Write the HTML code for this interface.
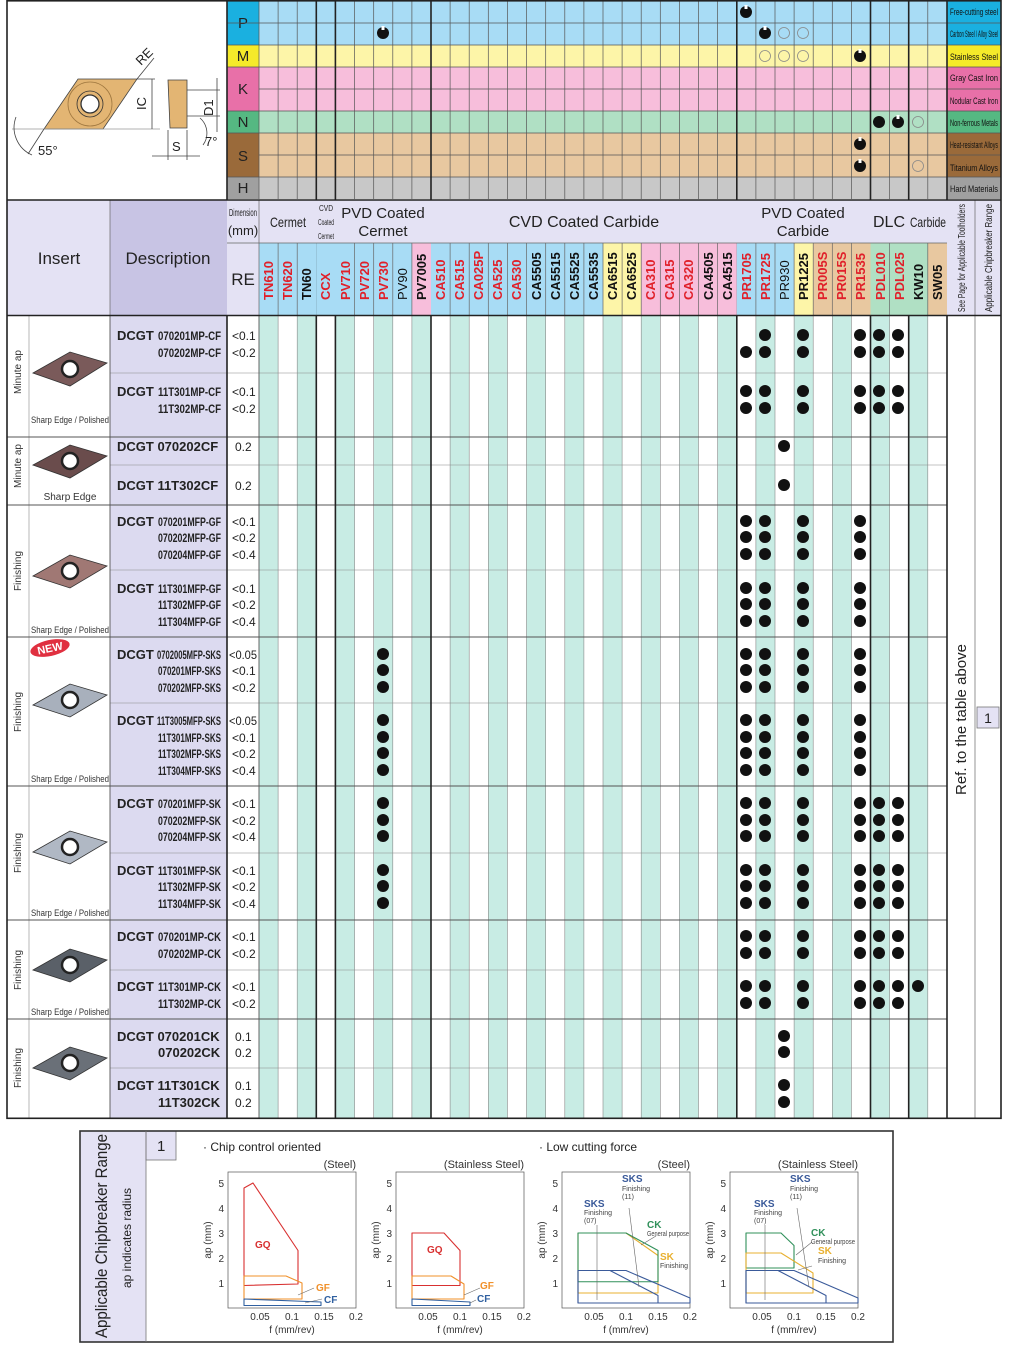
<!DOCTYPE html>
<html><head><meta charset="utf-8"><style>
html,body{margin:0;padding:0;background:#fff;}
svg{display:block;font-family:"Liberation Sans",sans-serif;}
</style></head><body>
<svg width="1018" height="1358" viewBox="0 0 1018 1358" xmlns="http://www.w3.org/2000/svg">
<rect width="1018" height="1358" fill="#fff"/>
<!-- TOP MATERIAL ROWS -->
<rect x="259" y="1" width="688" height="44" fill="#a8dcf5"/>
<rect x="259" y="45" width="688" height="22" fill="#fdf5a8"/>
<rect x="259" y="67" width="688" height="44" fill="#f7bedb"/>
<rect x="259" y="111" width="688" height="22" fill="#b0e0c4"/>
<rect x="259" y="133" width="688" height="44" fill="#e8c8a0"/>
<rect x="259" y="177" width="688" height="22" fill="#c8c8c8"/>
<rect x="227" y="1" width="32" height="44" fill="#1ab0e0"/>
<rect x="227" y="45" width="32" height="22" fill="#f5ea2a"/>
<rect x="227" y="67" width="32" height="44" fill="#e870a8"/>
<rect x="227" y="111" width="32" height="22" fill="#55b882"/>
<rect x="227" y="133" width="32" height="44" fill="#9a6a3a"/>
<rect x="227" y="177" width="32" height="22" fill="#a0a0a0"/>
<g font-size="15" fill="#222" text-anchor="middle">
<text x="243" y="28">P</text><text x="243" y="61">M</text><text x="243" y="94">K</text><text x="243" y="127">N</text><text x="243" y="161">S</text><text x="243" y="193">H</text></g>
<rect x="947" y="1" width="54" height="44" fill="#1ab0e0"/>
<rect x="947" y="45" width="54" height="22" fill="#f5ea2a"/>
<rect x="947" y="67" width="54" height="44" fill="#e870a8"/>
<rect x="947" y="111" width="54" height="22" fill="#55b882"/>
<rect x="947" y="133" width="54" height="44" fill="#9a6a3a"/>
<rect x="947" y="177" width="54" height="22" fill="#a0a0a0"/>
<g font-size="9" fill="#111">
<text x="950" y="15" textLength="48" lengthAdjust="spacingAndGlyphs">Free-cutting steel</text>
<text x="950" y="37" textLength="48" lengthAdjust="spacingAndGlyphs">Carbon Steel / Alloy Steel</text>
<text x="950" y="60" textLength="48" lengthAdjust="spacingAndGlyphs">Stainless Steel</text>
<text x="950" y="81" textLength="48" lengthAdjust="spacingAndGlyphs">Gray Cast Iron</text>
<text x="950" y="104" textLength="48" lengthAdjust="spacingAndGlyphs">Nodular Cast Iron</text>
<text x="950" y="126" textLength="48" lengthAdjust="spacingAndGlyphs">Non-ferrous Metals</text>
<text x="950" y="148" textLength="48" lengthAdjust="spacingAndGlyphs">Heat-resistant Alloys</text>
<text x="950" y="171" textLength="48" lengthAdjust="spacingAndGlyphs">Titanium Alloys</text>
<text x="950" y="192" textLength="48" lengthAdjust="spacingAndGlyphs">Hard Materials</text>
</g>
<g stroke="#555" stroke-width="0.7">
<line x1="227" y1="23" x2="1001" y2="23"/><line x1="259" y1="89" x2="1001" y2="89"/><line x1="259" y1="155" x2="1001" y2="155"/>
<line x1="227" y1="45" x2="1001" y2="45"/><line x1="227" y1="67" x2="1001" y2="67"/><line x1="227" y1="111" x2="1001" y2="111"/><line x1="227" y1="133" x2="1001" y2="133"/><line x1="227" y1="177" x2="1001" y2="177"/>
<line x1="259" y1="1" x2="259" y2="199"/><line x1="278.1" y1="1" x2="278.1" y2="199"/><line x1="297.2" y1="1" x2="297.2" y2="199"/><line x1="354.6" y1="1" x2="354.6" y2="199"/><line x1="373.7" y1="1" x2="373.7" y2="199"/><line x1="392.8" y1="1" x2="392.8" y2="199"/><line x1="411.9" y1="1" x2="411.9" y2="199"/><line x1="450.1" y1="1" x2="450.1" y2="199"/><line x1="469.2" y1="1" x2="469.2" y2="199"/><line x1="488.3" y1="1" x2="488.3" y2="199"/><line x1="507.4" y1="1" x2="507.4" y2="199"/><line x1="526.5" y1="1" x2="526.5" y2="199"/><line x1="545.7" y1="1" x2="545.7" y2="199"/><line x1="564.8" y1="1" x2="564.8" y2="199"/><line x1="583.9" y1="1" x2="583.9" y2="199"/><line x1="603" y1="1" x2="603" y2="199"/><line x1="622.1" y1="1" x2="622.1" y2="199"/><line x1="641.2" y1="1" x2="641.2" y2="199"/><line x1="660.3" y1="1" x2="660.3" y2="199"/><line x1="679.4" y1="1" x2="679.4" y2="199"/><line x1="698.5" y1="1" x2="698.5" y2="199"/><line x1="717.6" y1="1" x2="717.6" y2="199"/><line x1="755.9" y1="1" x2="755.9" y2="199"/><line x1="775" y1="1" x2="775" y2="199"/><line x1="794.1" y1="1" x2="794.1" y2="199"/><line x1="813.2" y1="1" x2="813.2" y2="199"/><line x1="832.3" y1="1" x2="832.3" y2="199"/><line x1="851.4" y1="1" x2="851.4" y2="199"/><line x1="889.6" y1="1" x2="889.6" y2="199"/><line x1="927.8" y1="1" x2="927.8" y2="199"/>
</g>
<g stroke="#222" stroke-width="1.6">
<line x1="316.3" y1="1" x2="316.3" y2="315"/><line x1="335.4" y1="1" x2="335.4" y2="315"/><line x1="431" y1="1" x2="431" y2="315"/><line x1="736.8" y1="1" x2="736.8" y2="315"/><line x1="870.5" y1="1" x2="870.5" y2="315"/><line x1="908.7" y1="1" x2="908.7" y2="315"/><line x1="947" y1="1" x2="947" y2="315"/>
<line x1="227" y1="0" x2="227" y2="315"/>
</g>
<!-- material dots -->
<g fill="#111">
<circle cx="746" cy="12" r="6"/><circle cx="383" cy="33" r="6"/><circle cx="765" cy="33" r="6"/><circle cx="860" cy="56" r="6"/><circle cx="879" cy="122" r="6"/><circle cx="898" cy="122" r="6"/><circle cx="860" cy="144" r="6"/><circle cx="860" cy="166" r="6"/>
</g>
<g fill="#fff"><rect x="744.5" y="5" width="3" height="4"/><rect x="381.5" y="26" width="3" height="4"/><rect x="763.5" y="26" width="3" height="4"/><rect x="858.5" y="49" width="3" height="4"/><rect x="896.5" y="115" width="3" height="4"/><rect x="858.5" y="137" width="3" height="4"/><rect x="858.5" y="159" width="3" height="4"/></g>
<g fill="none" stroke="#888" stroke-width="0.8">
<circle cx="784" cy="33" r="5.5"/><circle cx="803" cy="33" r="5.5"/><circle cx="765" cy="56" r="5.5"/><circle cx="784" cy="56" r="5.5"/><circle cx="803" cy="56" r="5.5"/><circle cx="918" cy="122" r="5.5"/><circle cx="918" cy="166" r="5.5"/>
</g>
<!-- Diagram -->
<g stroke="#444" stroke-width="0.8" fill="none">
<polygon points="44,129 78,79 137,79 103,129" fill="#e3b573"/>
<circle cx="90" cy="104" r="22" stroke="#a07840"/>
<circle cx="90" cy="104" r="13" fill="#e3b573" stroke="#333"/>
<circle cx="90" cy="104" r="9" fill="#fff" stroke="#333" stroke-width="1.3"/>
<line x1="12" y1="129" x2="160" y2="129" stroke="#999"/>
<line x1="44" y1="129" x2="28" y2="154"/>
<path d="M16,117 A30,30 0 0 0 32,155"/>
<line x1="137" y1="79" x2="155" y2="79"/><line x1="152" y1="79" x2="152" y2="129"/>
<line x1="137" y1="79" x2="154" y2="58"/>
<polygon points="168,80 187,80 187,128 170,128" fill="#e3b573"/>
<line x1="187" y1="90" x2="220" y2="90"/><line x1="187" y1="116" x2="220" y2="116"/><line x1="217" y1="78" x2="217" y2="132"/>
<line x1="168" y1="130" x2="168" y2="160"/><line x1="187" y1="130" x2="187" y2="160"/><line x1="152" y1="156" x2="200" y2="156"/>
<path d="M200,118 A20,20 0 0 1 203,145"/>
</g>
<g font-size="13" fill="#222">
<text x="38" y="155">55°</text>
<text x="146" y="110" transform="rotate(-90 146 110)">IC</text>
<text x="141" y="66" transform="rotate(-45 141 66)">RE</text>
<text x="213" y="116" transform="rotate(-90 213 116)">D1</text>
<text x="172" y="151">S</text>
<text x="205" y="146">7°</text>
</g>
<!-- HEADER -->
<rect x="7" y="200" width="103" height="115" fill="#e4e2f4"/>
<rect x="110" y="200" width="117" height="115" fill="#c8c4e4"/>
<rect x="227" y="200" width="774" height="43" fill="#e4e2f4"/>
<rect x="227" y="243" width="32" height="72" fill="#e4e2f4"/>
<rect x="947" y="243" width="54" height="72" fill="#e4e2f4"/>
<g>
<rect x="259" y="243" width="57.3" height="72" fill="#a8dcf5"/>
<rect x="316.3" y="243" width="95.6" height="72" fill="#a8dcf5"/>
<rect x="411.9" y="243" width="19.1" height="72" fill="#f7bedb"/>
<rect x="431" y="243" width="172" height="72" fill="#a8dcf5"/>
<rect x="603" y="243" width="38.2" height="72" fill="#fdf5a8"/>
<rect x="641.2" y="243" width="95.6" height="72" fill="#f7bedb"/>
<rect x="736.8" y="243" width="57.3" height="72" fill="#a8dcf5"/>
<rect x="794.1" y="243" width="19.1" height="72" fill="#fdf5a8"/>
<rect x="813.2" y="243" width="57.3" height="72" fill="#e8c8a0"/>
<rect x="870.5" y="243" width="57.3" height="72" fill="#b0e0c4"/>
<rect x="927.8" y="243" width="19.2" height="72" fill="#e8c8a0"/>
</g>
<g stroke="#666" stroke-width="0.7">
<line x1="227" y1="243" x2="947" y2="243"/>
<line x1="259" y1="200" x2="259" y2="315"/><line x1="110" y1="200" x2="110" y2="315"/><line x1="975" y1="200" x2="975" y2="1118"/>
<line x1="278.1" y1="243" x2="278.1" y2="315"/><line x1="297.2" y1="243" x2="297.2" y2="315"/><line x1="354.6" y1="243" x2="354.6" y2="315"/><line x1="373.7" y1="243" x2="373.7" y2="315"/><line x1="392.8" y1="243" x2="392.8" y2="315"/><line x1="411.9" y1="243" x2="411.9" y2="315"/><line x1="450.1" y1="243" x2="450.1" y2="315"/><line x1="469.2" y1="243" x2="469.2" y2="315"/><line x1="488.3" y1="243" x2="488.3" y2="315"/><line x1="507.4" y1="243" x2="507.4" y2="315"/><line x1="526.5" y1="243" x2="526.5" y2="315"/><line x1="545.7" y1="243" x2="545.7" y2="315"/><line x1="564.8" y1="243" x2="564.8" y2="315"/><line x1="583.9" y1="243" x2="583.9" y2="315"/><line x1="603" y1="243" x2="603" y2="315"/><line x1="622.1" y1="243" x2="622.1" y2="315"/><line x1="641.2" y1="243" x2="641.2" y2="315"/><line x1="660.3" y1="243" x2="660.3" y2="315"/><line x1="679.4" y1="243" x2="679.4" y2="315"/><line x1="698.5" y1="243" x2="698.5" y2="315"/><line x1="717.6" y1="243" x2="717.6" y2="315"/><line x1="755.9" y1="243" x2="755.9" y2="315"/><line x1="775" y1="243" x2="775" y2="315"/><line x1="794.1" y1="243" x2="794.1" y2="315"/><line x1="813.2" y1="243" x2="813.2" y2="315"/><line x1="832.3" y1="243" x2="832.3" y2="315"/><line x1="851.4" y1="243" x2="851.4" y2="315"/><line x1="889.6" y1="243" x2="889.6" y2="315"/><line x1="927.8" y1="243" x2="927.8" y2="315"/>
</g>
<g fill="#222" text-anchor="middle">
<text x="59" y="264" font-size="17">Insert</text>
<text x="168" y="264" font-size="17">Description</text>
<text x="243" y="285" font-size="17">RE</text>
<text x="243" y="216" font-size="10" textLength="28" lengthAdjust="spacingAndGlyphs">Dimension</text>
<text x="243" y="235" font-size="13">(mm)</text>
<text x="288" y="227" font-size="14" textLength="36" lengthAdjust="spacingAndGlyphs">Cermet</text>
<text x="326" y="211" font-size="8" textLength="14" lengthAdjust="spacingAndGlyphs">CVD</text>
<text x="326" y="225" font-size="8" textLength="16" lengthAdjust="spacingAndGlyphs">Coated</text>
<text x="326" y="239" font-size="8" textLength="16" lengthAdjust="spacingAndGlyphs">Cermet</text>
<text x="383" y="218" font-size="15">PVD Coated</text>
<text x="383" y="236" font-size="15">Cermet</text>
<text x="584" y="227" font-size="16">CVD Coated Carbide</text>
<text x="803" y="218" font-size="15">PVD Coated</text>
<text x="803" y="236" font-size="15">Carbide</text>
<text x="889" y="227" font-size="16">DLC</text>
<text x="928" y="227" font-size="14" textLength="36" lengthAdjust="spacingAndGlyphs">Carbide</text>
</g>
<g font-size="10" fill="#222">
<text transform="translate(965,312) rotate(-90)" textLength="108" lengthAdjust="spacingAndGlyphs">See Page for Applicable Toolholders</text>
<text transform="translate(992,312) rotate(-90)" textLength="108" lengthAdjust="spacingAndGlyphs">Applicable Chipbreaker Range</text>
</g>
<g font-size="13" font-weight="bold" fill="#e0202a">
<text transform="translate(273,300) rotate(-90)">TN610</text>
<text transform="translate(292,300) rotate(-90)">TN620</text>
<text transform="translate(311,300) rotate(-90)" fill="#111">TN60</text>
<text transform="translate(330,300) rotate(-90)">CCX</text>
<text transform="translate(350,300) rotate(-90)">PV710</text>
<text transform="translate(369,300) rotate(-90)">PV720</text>
<text transform="translate(388,300) rotate(-90)">PV730</text>
<text transform="translate(407,300) rotate(-90)" fill="#111" font-weight="normal">PV90</text>
<text transform="translate(426,300) rotate(-90)" fill="#111">PV7005</text>
<text transform="translate(445,300) rotate(-90)">CA510</text>
<text transform="translate(464,300) rotate(-90)">CA515</text>
<text transform="translate(483,300) rotate(-90)">CA025P</text>
<text transform="translate(502,300) rotate(-90)">CA525</text>
<text transform="translate(521,300) rotate(-90)">CA530</text>
<text transform="translate(541,300) rotate(-90)" fill="#111">CA5505</text>
<text transform="translate(560,300) rotate(-90)" fill="#111">CA5515</text>
<text transform="translate(579,300) rotate(-90)" fill="#111">CA5525</text>
<text transform="translate(598,300) rotate(-90)" fill="#111">CA5535</text>
<text transform="translate(617,300) rotate(-90)" fill="#111">CA6515</text>
<text transform="translate(636,300) rotate(-90)" fill="#111">CA6525</text>
<text transform="translate(655,300) rotate(-90)">CA310</text>
<text transform="translate(674,300) rotate(-90)">CA315</text>
<text transform="translate(693,300) rotate(-90)">CA320</text>
<text transform="translate(713,300) rotate(-90)" fill="#111">CA4505</text>
<text transform="translate(732,300) rotate(-90)" fill="#111">CA4515</text>
<text transform="translate(751,300) rotate(-90)">PR1705</text>
<text transform="translate(770,300) rotate(-90)">PR1725</text>
<text transform="translate(789,300) rotate(-90)" fill="#111" font-weight="normal">PR930</text>
<text transform="translate(808,300) rotate(-90)" fill="#111">PR1225</text>
<text transform="translate(827,300) rotate(-90)">PR005S</text>
<text transform="translate(846,300) rotate(-90)">PR015S</text>
<text transform="translate(865,300) rotate(-90)">PR1535</text>
<text transform="translate(885,300) rotate(-90)">PDL010</text>
<text transform="translate(904,300) rotate(-90)">PDL025</text>
<text transform="translate(923,300) rotate(-90)" fill="#111">KW10</text>
<text transform="translate(942,300) rotate(-90)" fill="#111">SW05</text>
</g>
<!-- BODY -->
<rect x="110" y="316" width="117" height="802" fill="#dcdaf0"/>
<g fill="#c8ece4">
<rect x="259" y="316" width="19.1" height="802"/><rect x="297.2" y="316" width="19.1" height="802"/><rect x="335.4" y="316" width="19.1" height="802"/><rect x="373.7" y="316" width="19.1" height="802"/><rect x="411.9" y="316" width="19.1" height="802"/><rect x="450.1" y="316" width="19.1" height="802"/><rect x="488.3" y="316" width="19.1" height="802"/><rect x="526.5" y="316" width="19.1" height="802"/><rect x="564.8" y="316" width="19.1" height="802"/><rect x="603" y="316" width="19.1" height="802"/><rect x="641.2" y="316" width="19.1" height="802"/><rect x="679.4" y="316" width="19.1" height="802"/><rect x="717.6" y="316" width="19.1" height="802"/><rect x="755.9" y="316" width="19.1" height="802"/><rect x="794.1" y="316" width="19.1" height="802"/><rect x="832.3" y="316" width="19.1" height="802"/><rect x="870.5" y="316" width="19.1" height="802"/><rect x="908.7" y="316" width="19.1" height="802"/>
</g>
<g stroke="#888" stroke-width="0.6">
<line x1="278.1" y1="316" x2="278.1" y2="1118"/><line x1="297.2" y1="316" x2="297.2" y2="1118"/><line x1="354.6" y1="316" x2="354.6" y2="1118"/><line x1="373.7" y1="316" x2="373.7" y2="1118"/><line x1="392.8" y1="316" x2="392.8" y2="1118"/><line x1="411.9" y1="316" x2="411.9" y2="1118"/><line x1="450.1" y1="316" x2="450.1" y2="1118"/><line x1="469.2" y1="316" x2="469.2" y2="1118"/><line x1="488.3" y1="316" x2="488.3" y2="1118"/><line x1="507.4" y1="316" x2="507.4" y2="1118"/><line x1="526.5" y1="316" x2="526.5" y2="1118"/><line x1="545.7" y1="316" x2="545.7" y2="1118"/><line x1="564.8" y1="316" x2="564.8" y2="1118"/><line x1="583.9" y1="316" x2="583.9" y2="1118"/><line x1="603" y1="316" x2="603" y2="1118"/><line x1="622.1" y1="316" x2="622.1" y2="1118"/><line x1="641.2" y1="316" x2="641.2" y2="1118"/><line x1="660.3" y1="316" x2="660.3" y2="1118"/><line x1="679.4" y1="316" x2="679.4" y2="1118"/><line x1="698.5" y1="316" x2="698.5" y2="1118"/><line x1="717.6" y1="316" x2="717.6" y2="1118"/><line x1="755.9" y1="316" x2="755.9" y2="1118"/><line x1="775" y1="316" x2="775" y2="1118"/><line x1="794.1" y1="316" x2="794.1" y2="1118"/><line x1="813.2" y1="316" x2="813.2" y2="1118"/><line x1="832.3" y1="316" x2="832.3" y2="1118"/><line x1="851.4" y1="316" x2="851.4" y2="1118"/><line x1="889.6" y1="316" x2="889.6" y2="1118"/><line x1="927.8" y1="316" x2="927.8" y2="1118"/>
<line x1="110" y1="373" x2="947" y2="373"/><line x1="110" y1="465" x2="947" y2="465"/><line x1="110" y1="570" x2="947" y2="570"/><line x1="110" y1="703" x2="947" y2="703"/><line x1="110" y1="853" x2="947" y2="853"/><line x1="110" y1="970" x2="947" y2="970"/><line x1="110" y1="1068" x2="947" y2="1068"/>
<line x1="29" y1="316" x2="29" y2="1118"/>
</g>
<g stroke="#555" stroke-width="0.9">
<line x1="7" y1="437" x2="947" y2="437"/><line x1="7" y1="505" x2="947" y2="505"/><line x1="7" y1="637" x2="947" y2="637"/><line x1="7" y1="786" x2="947" y2="786"/><line x1="7" y1="920" x2="947" y2="920"/><line x1="7" y1="1019" x2="947" y2="1019"/>
<line x1="110" y1="316" x2="110" y2="1118"/><line x1="259" y1="316" x2="259" y2="1118"/>
</g>
<g stroke="#222" stroke-width="1.6">
<line x1="227" y1="316" x2="227" y2="1118"/><line x1="316.3" y1="316" x2="316.3" y2="1118"/><line x1="335.4" y1="316" x2="335.4" y2="1118"/><line x1="431" y1="316" x2="431" y2="1118"/><line x1="736.8" y1="316" x2="736.8" y2="1118"/><line x1="870.5" y1="316" x2="870.5" y2="1118"/><line x1="908.7" y1="316" x2="908.7" y2="1118"/><line x1="947" y1="316" x2="947" y2="1118"/>
<line x1="7" y1="200" x2="1001" y2="200"/><line x1="7" y1="315.5" x2="1001" y2="315.5"/>
</g>
<rect x="7" y="0.8" width="994" height="1117.5" fill="none" stroke="#222" stroke-width="1.6"/>
<!-- left labels -->
<g font-size="10" fill="#333" text-anchor="middle">
<text transform="translate(21,372) rotate(-90)">Minute ap</text>
<text transform="translate(21,466) rotate(-90)">Minute ap</text>
<text transform="translate(21,571) rotate(-90)">Finishing</text>
<text transform="translate(21,712) rotate(-90)">Finishing</text>
<text transform="translate(21,853) rotate(-90)">Finishing</text>
<text transform="translate(21,970) rotate(-90)">Finishing</text>
<text transform="translate(21,1068) rotate(-90)">Finishing</text>
</g>
<g font-size="9" fill="#333" text-anchor="middle">
<text x="70" y="423" textLength="78" lengthAdjust="spacingAndGlyphs">Sharp Edge / Polished</text>
<text x="70" y="500" font-size="10">Sharp Edge</text>
<text x="70" y="633" textLength="78" lengthAdjust="spacingAndGlyphs">Sharp Edge / Polished</text>
<text x="70" y="782" textLength="78" lengthAdjust="spacingAndGlyphs">Sharp Edge / Polished</text>
<text x="70" y="916" textLength="78" lengthAdjust="spacingAndGlyphs">Sharp Edge / Polished</text>
<text x="70" y="1015" textLength="78" lengthAdjust="spacingAndGlyphs">Sharp Edge / Polished</text>
</g>
<!-- insert images -->
<g stroke="#333" stroke-width="0.8">
<polygon points="33,373 70,352 107,363 70,386" fill="#7a5a5a"/>
<polygon points="33,465 70,445 107,456 70,478" fill="#6a4c4c"/>
<polygon points="33,576 70,555 107,566 70,588" fill="#a07874"/>
<polygon points="33,705 70,684 107,695 70,717" fill="#a8b0bc"/>
<polygon points="33,852 70,831 107,842 70,864" fill="#b0b8c4"/>
<polygon points="33,970 70,949 107,960 70,982" fill="#5a6068"/>
<polygon points="33,1068 70,1047 107,1058 70,1080" fill="#6a7078"/>
</g>
<g fill="#fff" stroke="#222" stroke-width="2.5">
<circle cx="70" cy="369" r="8"/><circle cx="70" cy="461" r="8"/><circle cx="70" cy="571" r="8"/><circle cx="70" cy="700" r="8"/><circle cx="70" cy="847" r="8"/><circle cx="70" cy="965" r="8"/><circle cx="70" cy="1063" r="8"/>
</g>
<ellipse cx="50" cy="648" rx="20" ry="8" fill="#e03040" transform="rotate(-12 50 648)"/>
<text x="50" y="652" font-size="11" font-weight="bold" fill="#fff" text-anchor="middle" transform="rotate(-12 50 648)">NEW</text>
<!-- description text -->
<g font-size="13" font-weight="bold" fill="#222">
<text x="117" y="340">DCGT</text><text x="117" y="396">DCGT</text>
<text x="117" y="451">DCGT 070202CF</text><text x="117" y="490">DCGT 11T302CF</text>
<text x="117" y="526">DCGT</text><text x="117" y="593">DCGT</text>
<text x="117" y="659">DCGT</text><text x="117" y="725">DCGT</text>
<text x="117" y="808">DCGT</text><text x="117" y="875">DCGT</text>
<text x="117" y="941">DCGT</text><text x="117" y="991">DCGT</text>
<text x="117" y="1041">DCGT 070201CK</text><text x="158" y="1057">070202CK</text>
<text x="117" y="1090">DCGT 11T301CK</text><text x="158" y="1107">11T302CK</text>
</g>
<g font-size="12" font-weight="bold" fill="#222" text-anchor="end">
<text x="221" y="340" textLength="63" lengthAdjust="spacingAndGlyphs">070201MP-CF</text>
<text x="221" y="357" textLength="63" lengthAdjust="spacingAndGlyphs">070202MP-CF</text>
<text x="221" y="396" textLength="63" lengthAdjust="spacingAndGlyphs">11T301MP-CF</text>
<text x="221" y="413" textLength="63" lengthAdjust="spacingAndGlyphs">11T302MP-CF</text>
<text x="221" y="526" textLength="63" lengthAdjust="spacingAndGlyphs">070201MFP-GF</text>
<text x="221" y="542" textLength="63" lengthAdjust="spacingAndGlyphs">070202MFP-GF</text>
<text x="221" y="559" textLength="63" lengthAdjust="spacingAndGlyphs">070204MFP-GF</text>
<text x="221" y="593" textLength="63" lengthAdjust="spacingAndGlyphs">11T301MFP-GF</text>
<text x="221" y="609" textLength="63" lengthAdjust="spacingAndGlyphs">11T302MFP-GF</text>
<text x="221" y="626" textLength="63" lengthAdjust="spacingAndGlyphs">11T304MFP-GF</text>
<text x="221" y="659" textLength="64" lengthAdjust="spacingAndGlyphs">0702005MFP-SKS</text>
<text x="221" y="675" textLength="63" lengthAdjust="spacingAndGlyphs">070201MFP-SKS</text>
<text x="221" y="692" textLength="63" lengthAdjust="spacingAndGlyphs">070202MFP-SKS</text>
<text x="221" y="725" textLength="64" lengthAdjust="spacingAndGlyphs">11T3005MFP-SKS</text>
<text x="221" y="742" textLength="63" lengthAdjust="spacingAndGlyphs">11T301MFP-SKS</text>
<text x="221" y="758" textLength="63" lengthAdjust="spacingAndGlyphs">11T302MFP-SKS</text>
<text x="221" y="775" textLength="63" lengthAdjust="spacingAndGlyphs">11T304MFP-SKS</text>
<text x="221" y="808" textLength="63" lengthAdjust="spacingAndGlyphs">070201MFP-SK</text>
<text x="221" y="825" textLength="63" lengthAdjust="spacingAndGlyphs">070202MFP-SK</text>
<text x="221" y="841" textLength="63" lengthAdjust="spacingAndGlyphs">070204MFP-SK</text>
<text x="221" y="875" textLength="63" lengthAdjust="spacingAndGlyphs">11T301MFP-SK</text>
<text x="221" y="891" textLength="63" lengthAdjust="spacingAndGlyphs">11T302MFP-SK</text>
<text x="221" y="908" textLength="63" lengthAdjust="spacingAndGlyphs">11T304MFP-SK</text>
<text x="221" y="941" textLength="63" lengthAdjust="spacingAndGlyphs">070201MP-CK</text>
<text x="221" y="958" textLength="63" lengthAdjust="spacingAndGlyphs">070202MP-CK</text>
<text x="221" y="991" textLength="63" lengthAdjust="spacingAndGlyphs">11T301MP-CK</text>
<text x="221" y="1008" textLength="63" lengthAdjust="spacingAndGlyphs">11T302MP-CK</text>
</g>
<g font-size="12" fill="#222">
<text x="232" y="340">&lt;0.1</text><text x="232" y="357">&lt;0.2</text><text x="232" y="396">&lt;0.1</text><text x="232" y="413">&lt;0.2</text>
<text x="235" y="451">0.2</text><text x="235" y="490">0.2</text>
<text x="232" y="526">&lt;0.1</text><text x="232" y="542">&lt;0.2</text><text x="232" y="559">&lt;0.4</text>
<text x="232" y="593">&lt;0.1</text><text x="232" y="609">&lt;0.2</text><text x="232" y="626">&lt;0.4</text>
<text x="229" y="659" textLength="28" lengthAdjust="spacingAndGlyphs">&lt;0.05</text><text x="232" y="675">&lt;0.1</text><text x="232" y="692">&lt;0.2</text>
<text x="229" y="725" textLength="28" lengthAdjust="spacingAndGlyphs">&lt;0.05</text><text x="232" y="742">&lt;0.1</text><text x="232" y="758">&lt;0.2</text><text x="232" y="775">&lt;0.4</text>
<text x="232" y="808">&lt;0.1</text><text x="232" y="825">&lt;0.2</text><text x="232" y="841">&lt;0.4</text>
<text x="232" y="875">&lt;0.1</text><text x="232" y="891">&lt;0.2</text><text x="232" y="908">&lt;0.4</text>
<text x="232" y="941">&lt;0.1</text><text x="232" y="958">&lt;0.2</text><text x="232" y="991">&lt;0.1</text><text x="232" y="1008">&lt;0.2</text>
<text x="235" y="1041">0.1</text><text x="235" y="1057">0.2</text><text x="235" y="1090">0.1</text><text x="235" y="1107">0.2</text>
</g>
<!-- body dots -->
<g fill="#111">
<circle cx="765" cy="335" r="6"/><circle cx="803" cy="335" r="6"/><circle cx="860" cy="335" r="6"/><circle cx="879" cy="335" r="6"/><circle cx="898" cy="335" r="6"/>
<circle cx="746" cy="352" r="6"/><circle cx="765" cy="352" r="6"/><circle cx="803" cy="352" r="6"/><circle cx="860" cy="352" r="6"/><circle cx="879" cy="352" r="6"/><circle cx="898" cy="352" r="6"/>
<circle cx="746" cy="391" r="6"/><circle cx="765" cy="391" r="6"/><circle cx="803" cy="391" r="6"/><circle cx="860" cy="391" r="6"/><circle cx="879" cy="391" r="6"/><circle cx="898" cy="391" r="6"/>
<circle cx="746" cy="408" r="6"/><circle cx="765" cy="408" r="6"/><circle cx="803" cy="408" r="6"/><circle cx="860" cy="408" r="6"/><circle cx="879" cy="408" r="6"/><circle cx="898" cy="408" r="6"/>
<circle cx="784" cy="446" r="6"/><circle cx="784" cy="485" r="6"/>
<circle cx="746" cy="521" r="6"/><circle cx="765" cy="521" r="6"/><circle cx="803" cy="521" r="6"/><circle cx="860" cy="521" r="6"/>
<circle cx="746" cy="537" r="6"/><circle cx="765" cy="537" r="6"/><circle cx="803" cy="537" r="6"/><circle cx="860" cy="537" r="6"/>
<circle cx="746" cy="554" r="6"/><circle cx="765" cy="554" r="6"/><circle cx="803" cy="554" r="6"/><circle cx="860" cy="554" r="6"/>
<circle cx="746" cy="588" r="6"/><circle cx="765" cy="588" r="6"/><circle cx="803" cy="588" r="6"/><circle cx="860" cy="588" r="6"/>
<circle cx="746" cy="604" r="6"/><circle cx="765" cy="604" r="6"/><circle cx="803" cy="604" r="6"/><circle cx="860" cy="604" r="6"/>
<circle cx="746" cy="621" r="6"/><circle cx="765" cy="621" r="6"/><circle cx="803" cy="621" r="6"/><circle cx="860" cy="621" r="6"/>
<circle cx="383" cy="654" r="6"/><circle cx="746" cy="654" r="6"/><circle cx="765" cy="654" r="6"/><circle cx="803" cy="654" r="6"/><circle cx="860" cy="654" r="6"/>
<circle cx="383" cy="670" r="6"/><circle cx="746" cy="670" r="6"/><circle cx="765" cy="670" r="6"/><circle cx="803" cy="670" r="6"/><circle cx="860" cy="670" r="6"/>
<circle cx="383" cy="687" r="6"/><circle cx="746" cy="687" r="6"/><circle cx="765" cy="687" r="6"/><circle cx="803" cy="687" r="6"/><circle cx="860" cy="687" r="6"/>
<circle cx="383" cy="720" r="6"/><circle cx="746" cy="720" r="6"/><circle cx="765" cy="720" r="6"/><circle cx="803" cy="720" r="6"/><circle cx="860" cy="720" r="6"/>
<circle cx="383" cy="737" r="6"/><circle cx="746" cy="737" r="6"/><circle cx="765" cy="737" r="6"/><circle cx="803" cy="737" r="6"/><circle cx="860" cy="737" r="6"/>
<circle cx="383" cy="753" r="6"/><circle cx="746" cy="753" r="6"/><circle cx="765" cy="753" r="6"/><circle cx="803" cy="753" r="6"/><circle cx="860" cy="753" r="6"/>
<circle cx="383" cy="770" r="6"/><circle cx="746" cy="770" r="6"/><circle cx="765" cy="770" r="6"/><circle cx="803" cy="770" r="6"/><circle cx="860" cy="770" r="6"/>
<circle cx="383" cy="803" r="6"/><circle cx="746" cy="803" r="6"/><circle cx="765" cy="803" r="6"/><circle cx="803" cy="803" r="6"/><circle cx="860" cy="803" r="6"/><circle cx="879" cy="803" r="6"/><circle cx="898" cy="803" r="6"/>
<circle cx="383" cy="820" r="6"/><circle cx="746" cy="820" r="6"/><circle cx="765" cy="820" r="6"/><circle cx="803" cy="820" r="6"/><circle cx="860" cy="820" r="6"/><circle cx="879" cy="820" r="6"/><circle cx="898" cy="820" r="6"/>
<circle cx="383" cy="836" r="6"/><circle cx="746" cy="836" r="6"/><circle cx="765" cy="836" r="6"/><circle cx="803" cy="836" r="6"/><circle cx="860" cy="836" r="6"/><circle cx="879" cy="836" r="6"/><circle cx="898" cy="836" r="6"/>
<circle cx="383" cy="870" r="6"/><circle cx="746" cy="870" r="6"/><circle cx="765" cy="870" r="6"/><circle cx="803" cy="870" r="6"/><circle cx="860" cy="870" r="6"/><circle cx="879" cy="870" r="6"/><circle cx="898" cy="870" r="6"/>
<circle cx="383" cy="886" r="6"/><circle cx="746" cy="886" r="6"/><circle cx="765" cy="886" r="6"/><circle cx="803" cy="886" r="6"/><circle cx="860" cy="886" r="6"/><circle cx="879" cy="886" r="6"/><circle cx="898" cy="886" r="6"/>
<circle cx="383" cy="903" r="6"/><circle cx="746" cy="903" r="6"/><circle cx="765" cy="903" r="6"/><circle cx="803" cy="903" r="6"/><circle cx="860" cy="903" r="6"/><circle cx="879" cy="903" r="6"/><circle cx="898" cy="903" r="6"/>
<circle cx="746" cy="936" r="6"/><circle cx="765" cy="936" r="6"/><circle cx="803" cy="936" r="6"/><circle cx="860" cy="936" r="6"/><circle cx="879" cy="936" r="6"/><circle cx="898" cy="936" r="6"/>
<circle cx="746" cy="953" r="6"/><circle cx="765" cy="953" r="6"/><circle cx="803" cy="953" r="6"/><circle cx="860" cy="953" r="6"/><circle cx="879" cy="953" r="6"/><circle cx="898" cy="953" r="6"/>
<circle cx="746" cy="986" r="6"/><circle cx="765" cy="986" r="6"/><circle cx="803" cy="986" r="6"/><circle cx="860" cy="986" r="6"/><circle cx="879" cy="986" r="6"/><circle cx="898" cy="986" r="6"/><circle cx="918" cy="986" r="6"/>
<circle cx="746" cy="1003" r="6"/><circle cx="765" cy="1003" r="6"/><circle cx="803" cy="1003" r="6"/><circle cx="860" cy="1003" r="6"/><circle cx="879" cy="1003" r="6"/><circle cx="898" cy="1003" r="6"/>
<circle cx="784" cy="1036" r="6"/><circle cx="784" cy="1052" r="6"/><circle cx="784" cy="1085" r="6"/><circle cx="784" cy="1102" r="6"/>
</g>
<text transform="translate(966,795) rotate(-90)" font-size="15" fill="#222">Ref. to the table above</text>
<rect x="977" y="707" width="22" height="21" fill="#e4e2f4" stroke="#777" stroke-width="0.8"/>
<text x="988" y="723" font-size="14" fill="#222" text-anchor="middle">1</text>
<!-- BOTTOM PANEL -->
<rect x="80" y="1131" width="66" height="211" fill="#e4e2f4"/>
<rect x="146" y="1131" width="30" height="29" fill="#e4e2f4" stroke="#777" stroke-width="0.8"/>
<rect x="80" y="1131" width="813" height="211" fill="none" stroke="#333" stroke-width="1.6"/>
<line x1="146" y1="1131" x2="146" y2="1342" stroke="#777" stroke-width="0.8"/>
<text transform="translate(107,1338) rotate(-90)" font-size="17" fill="#222" textLength="204" lengthAdjust="spacingAndGlyphs">Applicable Chipbreaker Range</text>
<text transform="translate(131,1288) rotate(-90)" font-size="12" fill="#222">ap indicates radius</text>
<text x="157" y="1151" font-size="15" fill="#222">1</text>
<g font-size="12" fill="#222"><text x="203" y="1151">· Chip control oriented</text><text x="539" y="1151">· Low cutting force</text></g>
<g font-size="11" fill="#333" text-anchor="end">
<text x="356" y="1168">(Steel)</text><text x="524" y="1168">(Stainless Steel)</text><text x="690" y="1168">(Steel)</text><text x="858" y="1168">(Stainless Steel)</text>
</g>
<!-- chart frames -->
<g fill="none" stroke="#555" stroke-width="0.7">
<rect x="228" y="1172" width="128" height="136"/><rect x="396" y="1172" width="128" height="136"/><rect x="562" y="1172" width="128" height="136"/><rect x="730" y="1172" width="128" height="136"/>
</g>
<g font-size="10" fill="#333" text-anchor="end">
<text x="224" y="1187">5</text><text x="224" y="1212">4</text><text x="224" y="1237">3</text><text x="224" y="1262">2</text><text x="224" y="1287">1</text>
<text x="392" y="1187">5</text><text x="392" y="1212">4</text><text x="392" y="1237">3</text><text x="392" y="1262">2</text><text x="392" y="1287">1</text>
<text x="558" y="1187">5</text><text x="558" y="1212">4</text><text x="558" y="1237">3</text><text x="558" y="1262">2</text><text x="558" y="1287">1</text>
<text x="726" y="1187">5</text><text x="726" y="1212">4</text><text x="726" y="1237">3</text><text x="726" y="1262">2</text><text x="726" y="1287">1</text>
</g>
<g font-size="10" fill="#333" text-anchor="middle">
<text x="260" y="1320">0.05</text><text x="292" y="1320">0.1</text><text x="324" y="1320">0.15</text><text x="356" y="1320">0.2</text><text x="292" y="1333">f (mm/rev)</text>
<text x="428" y="1320">0.05</text><text x="460" y="1320">0.1</text><text x="492" y="1320">0.15</text><text x="524" y="1320">0.2</text><text x="460" y="1333">f (mm/rev)</text>
<text x="594" y="1320">0.05</text><text x="626" y="1320">0.1</text><text x="658" y="1320">0.15</text><text x="690" y="1320">0.2</text><text x="626" y="1333">f (mm/rev)</text>
<text x="762" y="1320">0.05</text><text x="794" y="1320">0.1</text><text x="826" y="1320">0.15</text><text x="858" y="1320">0.2</text><text x="794" y="1333">f (mm/rev)</text>
<text transform="translate(211,1240) rotate(-90)">ap (mm)</text><text transform="translate(379,1240) rotate(-90)">ap (mm)</text><text transform="translate(545,1240) rotate(-90)">ap (mm)</text><text transform="translate(713,1240) rotate(-90)">ap (mm)</text>
</g>
<g fill="none" stroke-width="1.1" stroke-linejoin="round">
<polygon points="244,1285.5 244,1188 253,1183 298,1250.5 298,1284" stroke="#d83030"/>
<polygon points="244,1299 244,1276 286,1276 302,1283 302,1299" stroke="#f0902a"/>
<polygon points="244,1305.5 244,1299 321,1302 321,1305.5" stroke="#3060a0"/>
<polygon points="412,1285.5 412,1233 444,1233 460,1250.5 460,1285.5" stroke="#d83030"/>
<polygon points="412,1299 412,1276 451,1276 464,1284 464,1299" stroke="#f0902a"/>
<polygon points="412,1305.5 412,1299 470,1302 470,1305.5" stroke="#3060a0"/>
<polygon points="578,1293 578,1233 626,1233 658,1255.5 658,1293" stroke="#e8b030"/>
<polygon points="578,1281.75 578,1233 626,1233 658,1250.5 658,1281.75" stroke="#30905a"/>
<polygon points="578,1303 578,1270.5 610,1270.5 658,1295.5 658,1303" stroke="#3a5a9a"/>
<polygon points="578,1303 578,1270.5 626,1270.5 690,1298 690,1303" stroke="#3a5a9a"/>
<polygon points="746,1268 746,1233 781,1233 794,1245.5 794,1268" stroke="#30905a"/>
<polygon points="746,1293 746,1253 781,1253 813,1273 813,1293" stroke="#e8b030"/>
<polygon points="746,1303 746,1270.5 778,1270.5 826,1295.5 826,1303" stroke="#3a5a9a"/>
<polygon points="746,1303 746,1270.5 794,1270.5 858,1298 858,1303" stroke="#3a5a9a"/>
</g>
<g stroke="#666" stroke-width="0.6">
<line x1="298" y1="1295" x2="314" y2="1288"/><line x1="305" y1="1303" x2="322" y2="1299"/>
<line x1="464" y1="1295" x2="480" y2="1288"/><line x1="470" y1="1303" x2="476" y2="1300"/>
<line x1="597" y1="1225" x2="597" y2="1300"/><line x1="629" y1="1208" x2="639" y2="1287"/><line x1="641" y1="1245" x2="656" y2="1236"/>
<line x1="765" y1="1225" x2="765" y2="1300"/><line x1="797" y1="1208" x2="809" y2="1287"/><line x1="796" y1="1255" x2="812" y2="1242"/><line x1="798" y1="1270" x2="812" y2="1266"/>
</g>
<g font-size="10" font-weight="bold">
<text x="255" y="1248" fill="#d83030">GQ</text><text x="316" y="1291" fill="#f0902a">GF</text><text x="324" y="1303" fill="#3060a0">CF</text>
<text x="427" y="1253" fill="#d83030">GQ</text><text x="480" y="1289" fill="#f0902a">GF</text><text x="477" y="1302" fill="#3060a0">CF</text>
<text x="584" y="1207" fill="#3a5a9a">SKS</text><text x="622" y="1182" fill="#3a5a9a">SKS</text><text x="647" y="1228" fill="#30905a">CK</text><text x="660" y="1260" fill="#e8b030">SK</text>
<text x="754" y="1207" fill="#3a5a9a">SKS</text><text x="790" y="1182" fill="#3a5a9a">SKS</text><text x="811" y="1236" fill="#30905a">CK</text><text x="818" y="1254" fill="#e8b030">SK</text>
</g>
<g font-size="7" fill="#444">
<text x="584" y="1215">Finishing</text><text x="584" y="1223">(07)</text><text x="622" y="1191">Finishing</text><text x="622" y="1199">(11)</text><text x="647" y="1236" textLength="42" lengthAdjust="spacingAndGlyphs">General purpose</text><text x="660" y="1268">Finishing</text>
<text x="754" y="1215">Finishing</text><text x="754" y="1223">(07)</text><text x="790" y="1191">Finishing</text><text x="790" y="1199">(11)</text><text x="811" y="1244" textLength="44" lengthAdjust="spacingAndGlyphs">General purpose</text><text x="818" y="1263">Finishing</text>
</g>
</svg>
</body></html>
